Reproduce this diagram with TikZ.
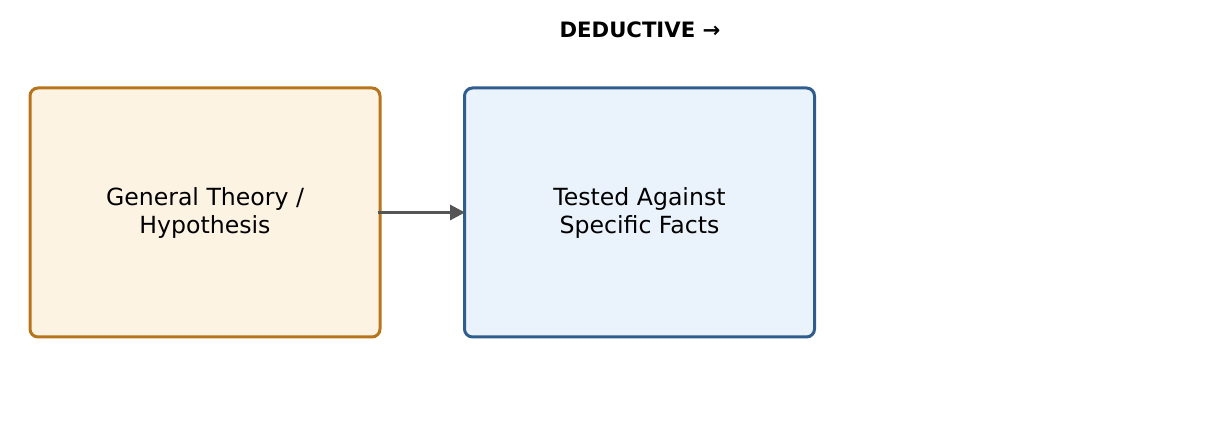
\documentclass[tikz,border=0pt]{standalone}
\usepackage{fontspec}
\setmainfont{DejaVu Sans}
\usetikzlibrary{arrows.meta}
\definecolor{theoryfill}{HTML}{FCF3E3}
\definecolor{theoryline}{HTML}{B8741A}
\definecolor{factfill}{HTML}{EAF2FB}
\definecolor{factline}{HTML}{2F5E8E}
\definecolor{arrowgray}{HTML}{555555}

\begin{document}
\begin{tikzpicture}[x=0.5pt, y=-0.5pt,
    box/.style = {shape=rectangle, rounded corners=4pt,
      draw, line width=1.5pt, align=center, font=\fontsize{11.8}{14}\selectfont,
      minimum width=175pt, minimum height=124.5pt, inner sep=0pt},
    theorybox/.style = {box, draw=theoryline, fill=theoryfill},
    factbox/.style = {box, draw=factline, fill=factfill}]
    \useasboundingbox (0,0) rectangle (1219,426);
    \node[font=\bfseries\fontsize{10.6}{12}\selectfont] (title) at (640,30) {DEDUCTIVE →};
    \node[theorybox] (theory) at (205,212.5) {General Theory /\\Hypothesis};
    \node[factbox] (facts) at (639.5,212.5) {Tested Against\\Specific Facts};
    \draw[arrowgray, line width=1.5pt, -{Triangle[length=7.5pt,width=7.5pt]}]
      ([xshift=-2pt]theory.east) -- ([xshift=1pt]facts.west);
  \end{tikzpicture}
\end{document}
